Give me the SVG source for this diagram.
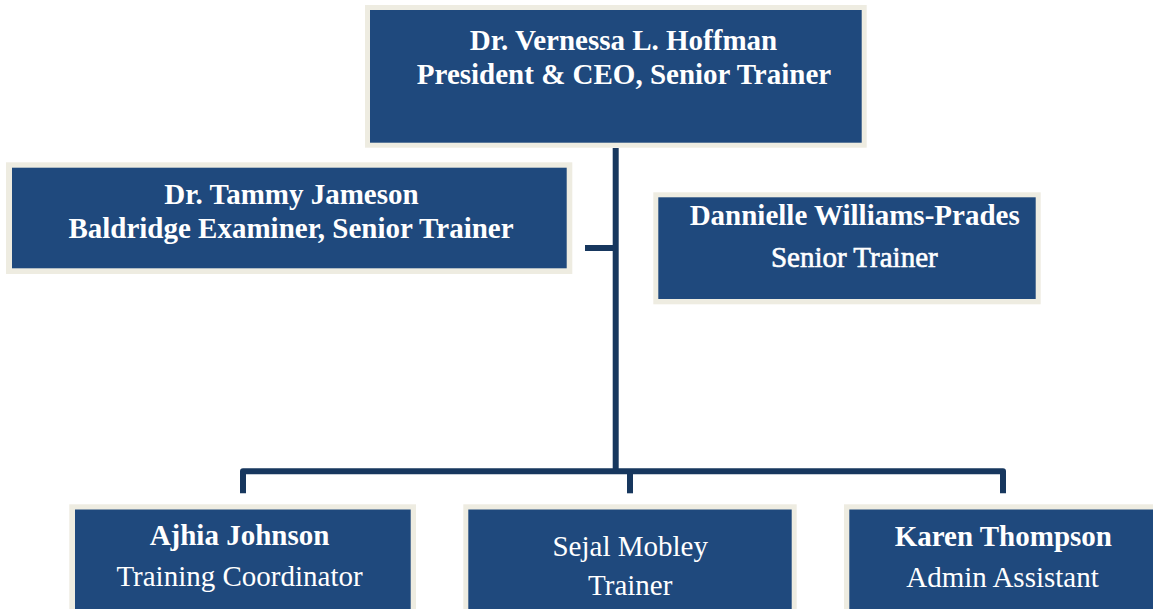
<svg xmlns="http://www.w3.org/2000/svg" width="1153" height="609" viewBox="0 0 1153 609">
  <style>
    .frame { fill: #eeece1; }
    .box { fill: #1f497d; }
    .t { font-family: "Liberation Serif", "Times New Roman", serif; font-size: 29px; fill: #ffffff; text-anchor: middle; }
    .b { font-weight: bold; }
    .heavy { stroke: #ffffff; stroke-width: 0.6; }
    .conn { fill: none; stroke: #17375e; stroke-width: 6; }
  </style>
  <rect width="1153" height="609" fill="#ffffff"/>
  <g id="connectors">
    <path class="conn" d="M615.7 148 V474"/>
    <path class="conn" d="M585 248 H615.7"/>
    <path class="conn" d="M243 493.3 V471.3 H1003 V493.3" stroke-linejoin="round"/>
    <path class="conn" d="M630 471.3 V493.3"/>
  </g>
  <g id="node-hoffman">
    <rect class="frame" x="365" y="5" width="501.7" height="142.7"/>
    <rect class="box" x="370" y="10" width="491.7" height="132.7"/>
    <text class="t b" x="623.5" y="50">Dr. Vernessa L. Hoffman</text>
    <text class="t b" x="624" y="84.3">President &amp; CEO, Senior Trainer</text>
  </g>
  <g id="node-jameson">
    <rect class="frame" x="6" y="162.3" width="566.3" height="111.7"/>
    <rect class="box" x="12" y="167.7" width="554.7" height="100.6"/>
    <text class="t b" x="291.5" y="204.3">Dr. Tammy Jameson</text>
    <text class="t b" x="291" y="238.3">Baldridge Examiner, Senior Trainer</text>
  </g>
  <g id="node-williams-prades">
    <rect class="frame" x="653.3" y="192.3" width="387.4" height="112"/>
    <rect class="box" x="658.3" y="197.3" width="377.4" height="101.7"/>
    <text class="t b" x="854.7" y="225">Dannielle Williams-Prades</text>
    <text class="t heavy" x="854.3" y="267.3">Senior Trainer</text>
  </g>
  <g id="node-johnson">
    <rect class="frame" x="69.3" y="504.3" width="346.7" height="120"/>
    <rect class="box" x="75" y="509.5" width="335.7" height="120"/>
    <text class="t b" x="239.5" y="545">Ajhia Johnson</text>
    <text class="t" x="239.5" y="586">Training Coordinator</text>
  </g>
  <g id="node-mobley">
    <rect class="frame" x="463.3" y="504.3" width="333.4" height="120"/>
    <rect class="box" x="468.3" y="509.5" width="323.4" height="120"/>
    <text class="t" x="630.2" y="556">Sejal Mobley</text>
    <text class="t" x="630.2" y="595">Trainer</text>
  </g>
  <g id="node-thompson">
    <rect class="frame" x="844" y="504.3" width="320" height="120"/>
    <rect class="box" x="849.3" y="509.5" width="320" height="120"/>
    <text class="t b" x="1003.3" y="546">Karen Thompson</text>
    <text class="t" x="1002.5" y="587">Admin Assistant</text>
  </g>
</svg>
